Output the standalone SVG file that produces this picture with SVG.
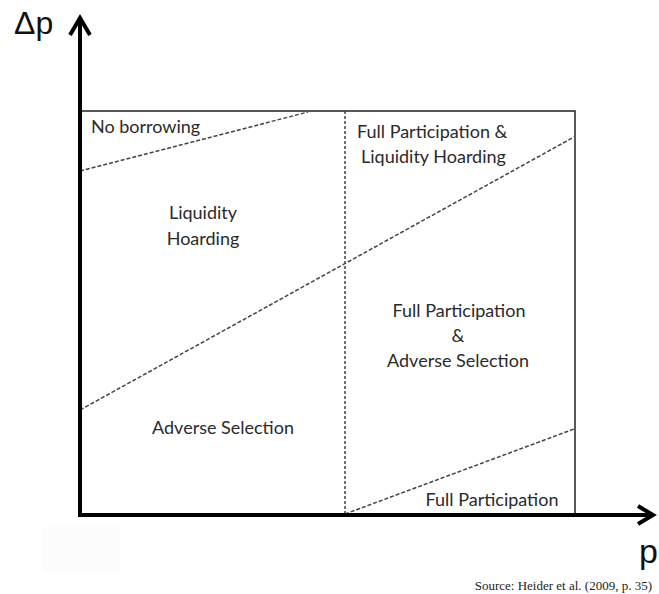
<svg xmlns="http://www.w3.org/2000/svg" width="659" height="594" viewBox="0 0 659 594">
  <style>
    .lbl { font-family: Lato, "Open Sans", sans-serif; font-size: 18px; fill: #2a2a2a; }
    .mid { text-anchor: middle; }
    .axis { stroke: #000; stroke-width: 4; fill: none; }
    .box { stroke: #222; stroke-width: 1.5; fill: none; }
    .dash { stroke: #444; stroke-width: 1.5; stroke-dasharray: 4 2; fill: none; }
    .vdash { stroke: #444; stroke-width: 1.5; stroke-dasharray: 3 2; fill: none; }
    .axlbl { font-family: "Liberation Sans", Arial, sans-serif; fill: #111; }
  </style>
  <rect width="659" height="594" fill="#fff"/>
  <rect x="43" y="527" width="77" height="45" fill="#fcfcfc"/>

  <g id="frame">
    <rect class="box" x="80" y="111" width="495" height="404"/>
  </g>

  <g id="connectors">
    <line class="vdash" x1="345" y1="111" x2="345" y2="515"/>
    <line class="dash" x1="80" y1="171" x2="308" y2="112"/>
    <line class="dash" x1="80" y1="410" x2="574" y2="137"/>
    <line class="dash" x1="345" y1="514" x2="574" y2="429"/>
  </g>

  <g id="axes">
    <polyline class="axis" points="80,18 80,515 652,515"/>
    <polyline class="axis" points="70,35 80,18 90,35" stroke-linejoin="miter"/>
    <polyline class="axis" points="638,506 653,515 638,524" stroke-linejoin="miter"/>
    <text class="axlbl" x="14" y="34" font-size="32">Δp</text>
    <text class="axlbl" x="639" y="563" font-size="34">p</text>
  </g>

  <g id="no-borrowing"><text class="lbl" x="91" y="133">No borrowing</text></g>
  <g id="liquidity-hoarding">
    <text class="lbl mid" x="203" y="219">Liquidity</text>
    <text class="lbl mid" x="203" y="245">Hoarding</text>
  </g>
  <g id="fp-lh">
    <text class="lbl" x="357" y="138">Full Participation &amp;</text>
    <text class="lbl" x="361" y="163">Liquidity Hoarding</text>
  </g>
  <g id="fp-as">
    <text class="lbl mid" x="459" y="317">Full Participation</text>
    <text class="lbl mid" x="458" y="342">&amp;</text>
    <text class="lbl mid" x="458" y="367">Adverse Selection</text>
  </g>
  <g id="adverse-selection"><text class="lbl mid" x="223" y="434">Adverse Selection</text></g>
  <g id="full-participation"><text class="lbl mid" x="492" y="506">Full Participation</text></g>

  <text x="652" y="590" text-anchor="end" font-family="'Liberation Serif', serif" font-size="13" fill="#222">Source: Heider et al. (2009, p. 35)</text>
</svg>
